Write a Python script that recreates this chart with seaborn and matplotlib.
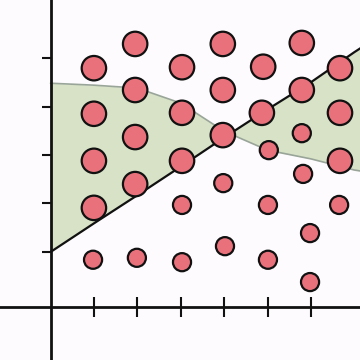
import matplotlib
matplotlib.use("Agg")
import matplotlib.pyplot as plt
import seaborn as sns
import pandas as pd

# ---- data ----
pt_x = [1.00, 1.00, 1.00, 1.00, 0.98,
        1.95, 1.95, 1.95, 1.95, 1.99,
        3.03, 3.03, 3.03, 3.03, 3.03,
        3.97, 3.97, 3.97, 3.98, 4.02,
        4.90, 4.87, 5.03, 5.01, 5.01,
        5.79, 5.79, 5.79, 5.82, 5.98, 5.98,
        6.67, 6.67, 6.67, 6.65]
pt_y = [4.79, 3.85, 2.88, 1.91, 0.84,
        5.29, 4.34, 3.37, 2.40, 0.88,
        4.81, 3.87, 2.88, 1.97, 0.79,
        5.29, 4.34, 3.41, 2.42, 1.12,
        4.82, 3.87, 3.10, 1.97, 0.84,
        5.31, 4.34, 3.45, 2.61, 1.39, 0.38,
        4.79, 3.87, 2.88, 1.97]
pt_size = ["big", "big", "big", "big", "small",
           "big", "big", "big", "big", "small",
           "big", "big", "big", "small", "small",
           "big", "big", "big", "small", "small",
           "big", "big", "small", "small", "small",
           "big", "big", "small", "small", "small", "small",
           "big", "big", "big", "small"]

line_x = [0, 1, 2, 3, 4, 5, 6, 7, 8]
line_y = [1.00, 1.59, 2.17, 2.76, 3.36, 3.94, 4.50, 5.12, 5.70]
curve_y = [4.48, 4.44, 4.38, 4.07, 3.49, 3.10, 2.92, 2.69, 2.55]

x_ticks = [1, 2, 3, 4, 5, 6]
y_ticks = [1, 2, 3, 4, 5]

# ---- style ----
sns.set_style("white")
bg = "#fdfbfd"
fig = plt.figure(figsize=(3.6, 3.6), dpi=100, facecolor=bg)
ax = fig.add_axes([0, 0, 1, 1])
ax.set_facecolor(bg)

pts = pd.DataFrame({"x": pt_x, "y": pt_y, "size": pt_size})
band = pd.DataFrame({"x": line_x, "line": line_y, "curve": curve_y})

ax.fill_between(band["x"], band["curve"], band["line"], color="#d7e2c6",
                linewidth=0, zorder=1)
sns.lineplot(data=band, x="x", y="curve", color="#9aa59a", linewidth=1.2,
             ax=ax, zorder=2)
sns.lineplot(data=band, x="x", y="line", color="#111111", linewidth=1.6,
             ax=ax, zorder=3)
sns.scatterplot(data=pts, x="x", y="y", size="size",
                sizes={"big": 310, "small": 170}, color="#e9717b",
                edgecolor="#111111", linewidth=1.6, legend=False, ax=ax,
                zorder=4)

ax.set_xlim(-1.164, 7.131)
ax.set_ylim(-1.227, 6.196)
for s in ["top", "right"]:
    ax.spines[s].set_visible(False)
ax.spines["left"].set_position(("data", 0))
ax.spines["bottom"].set_position(("data", -0.13))
for s in ["left", "bottom"]:
    ax.spines[s].set_linewidth(2.0)
    ax.spines[s].set_color("#111111")
    ax.spines[s].set_zorder(5)

ax.set_xticks(x_ticks)
ax.set_yticks(y_ticks)
ax.set_xticklabels([])
ax.set_yticklabels([])
ax.tick_params(axis="x", direction="inout", length=13.7, width=1.5,
               color="#111111", bottom=True)
ax.tick_params(axis="y", direction="out", length=6.5, width=1.5,
               color="#111111", left=True)
ax.set_xlabel("")
ax.set_ylabel("")

fig.savefig("out.png", dpi=100, facecolor=bg)
